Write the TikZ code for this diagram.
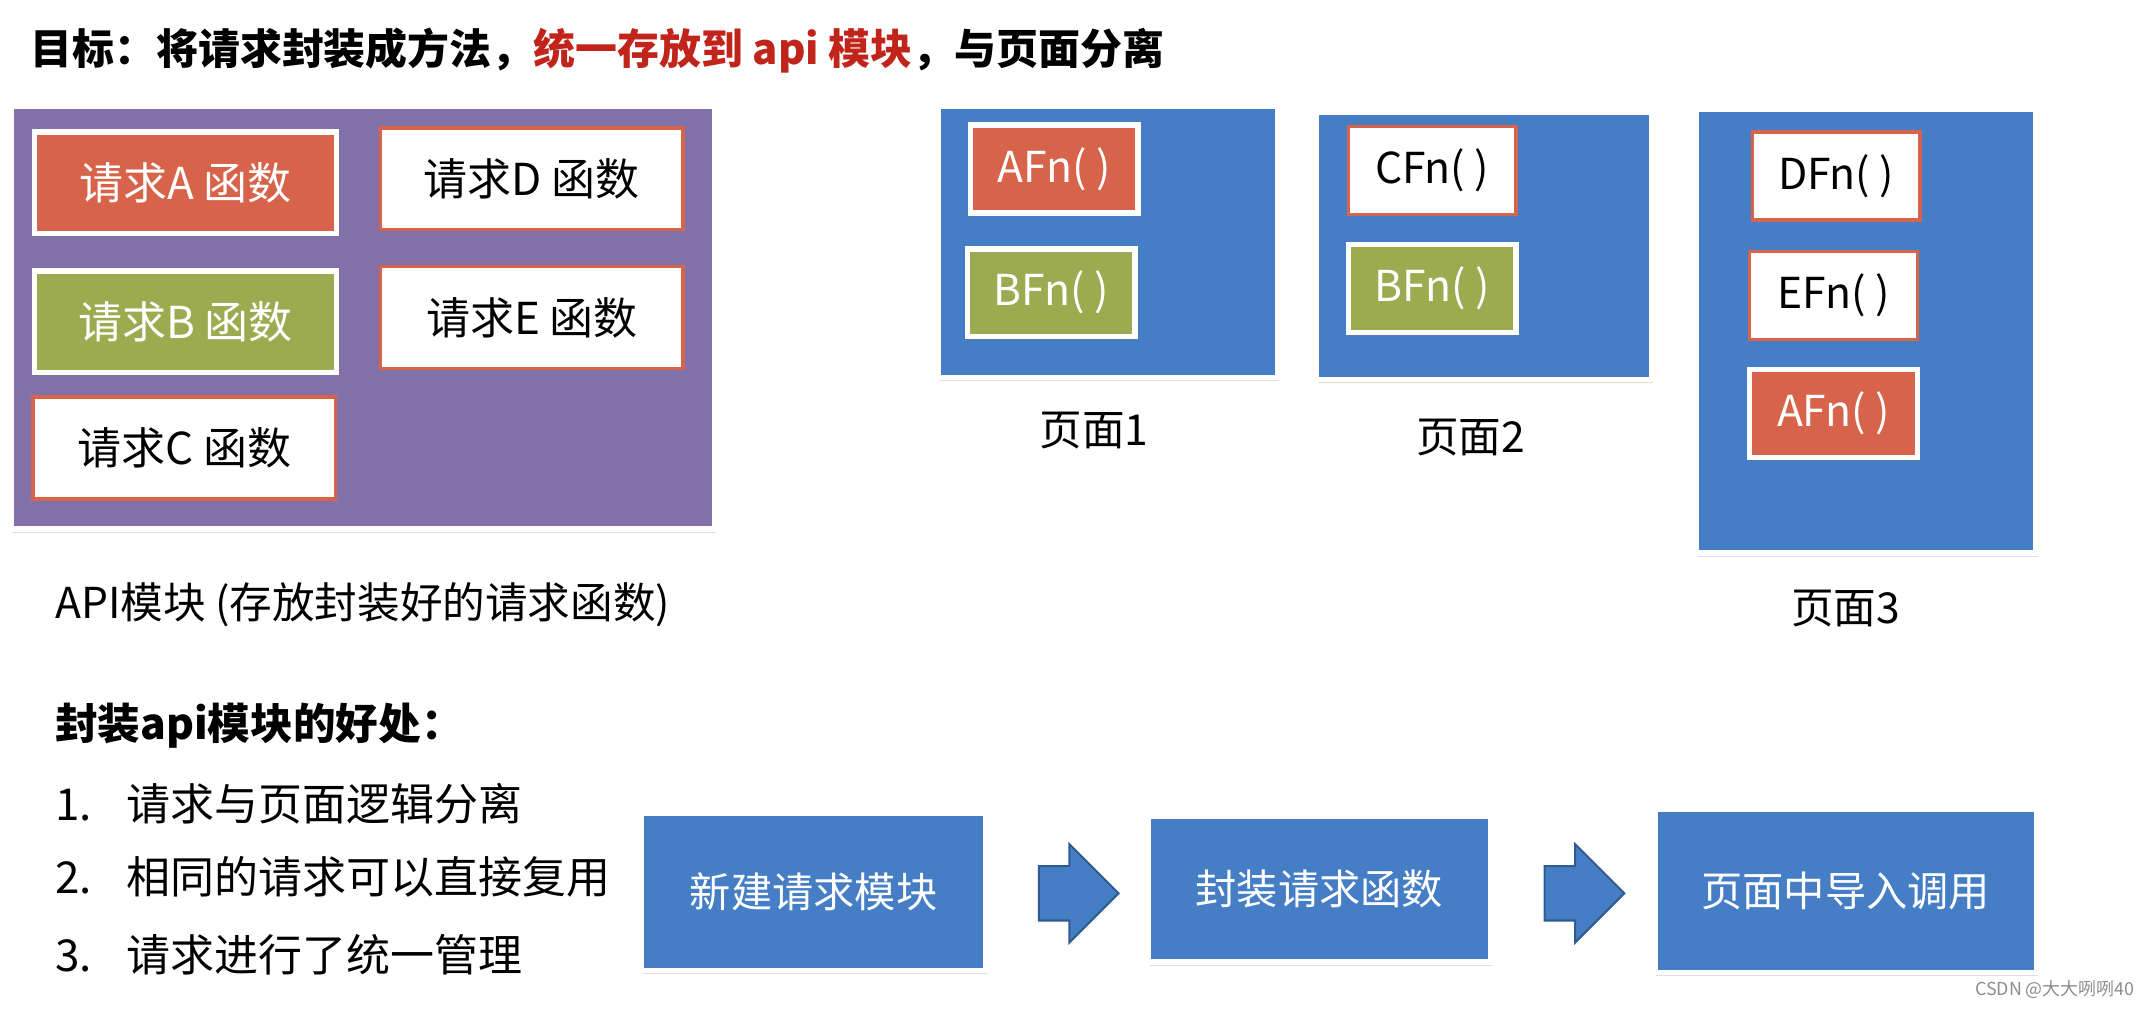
\documentclass[tikz,border=0pt]{standalone}
\usepackage{fontspec}
\setmainfont{Noto Sans CJK SC}
\usetikzlibrary{shapes.arrows,shadows}

\definecolor{apipurple}{HTML}{8270A9}
\definecolor{pageblue}{HTML}{467EC6}
\definecolor{reqorange}{HTML}{D6634A}
\definecolor{reqgreen}{HTML}{9CAB50}
\definecolor{titlered}{HTML}{C0241A}
\definecolor{arrowedge}{HTML}{2F5A92}

\newcommand{\fw}{122pt}
\newcommand{\fh}{64pt}
\newcommand{\txt}[1]{\fontsize{#1}{#1}\selectfont}

\begin{document}
\begin{tikzpicture}[x=1pt, y=-1pt,
    shade/.style={drop shadow={shadow xshift=1pt, shadow yshift=-2.5pt, opacity=0.25}},
    panel/.style={draw=white, line width=4pt, inner sep=0pt, shade},
    req/.style={rectangle, minimum width=220pt, minimum height=74pt, inner sep=0pt, font=\txt{32}},
    fn/.style={rectangle, minimum width=\fw, minimum height=\fh, inner sep=0pt, font=\txt{31}},
    full/.style={draw=white, line width=4pt, text=white, shade},
    hollow/.style={draw=reqorange, line width=2.5pt, fill=white},
    step box/.style={rectangle, fill=pageblue, draw=white, line width=4pt, text=white, inner sep=0pt, font=\txt{30}, shade},
    flowarrow/.style={single arrow, draw=arrowedge, fill=pageblue, line width=1.5pt, minimum height=58pt, single arrow head extend=16pt, inner xsep=0pt, inner ysep=19pt},
    label/.style={inner sep=0pt, font=\txt{31}}]
    \useasboundingbox (0,0) rectangle (1568,734);

    % Title
    \node[inner sep=0pt, anchor=west, font=\txt{30.5}\bfseries] (title) at (22,37)
        {目标：将请求封装成方法，\textcolor{titlered}{统一存放到 api 模块}，与页面分离};

    % API module
    \node[panel, fill=apipurple, minimum width=512pt, minimum height=308pt] (api) at (264,231) {};
    \node[req, full, fill=reqorange] (req-a) at (135,133) {请求A 函数};
    \node[req, full, fill=reqgreen] (req-b) at (135,234) {请求B 函数};
    \node[req, hollow] (req-c) at (134,326) {请求C 函数};
    \node[req, hollow] (req-d) at (387,130) {请求D 函数};
    \node[req, hollow] (req-e) at (387,231) {请求E 函数};
    \node[label, anchor=west] (api-label) at (40,440) {API模块 (存放封装好的请求函数)};

    % Pages
    \node[panel, fill=pageblue, minimum width=247pt, minimum height=197pt] (page-1) at (806,176) {};
    \node[fn, full, fill=reqorange] (page-1-a) at (767,123) {AFn( )};
    \node[fn, full, fill=reqgreen] (page-1-b) at (765,213) {BFn( )};
    \node[label] (page-1-label) at (796,313) {页面1};

    \node[panel, fill=pageblue, minimum width=244pt, minimum height=194pt] (page-2) at (1080,179) {};
    \node[fn, hollow] (page-2-c) at (1042,124) {CFn( )};
    \node[fn, full, fill=reqgreen] (page-2-b) at (1042,210) {BFn( )};
    \node[label] (page-2-label) at (1070,318) {页面2};

    \node[panel, fill=pageblue, minimum width=247pt, minimum height=323pt] (page-3) at (1358,241) {};
    \node[fn, hollow] (page-3-d) at (1336,128) {DFn( )};
    \node[fn, hollow] (page-3-e) at (1334,215) {EFn( )};
    \node[fn, full, fill=reqorange] (page-3-a) at (1334,301) {AFn( )};
    \node[label] (page-3-label) at (1343,443) {页面3};

    % Advantages
    \node[label, anchor=west, font=\txt{31}\bfseries] (adv) at (40,528) {封装api模块的好处：};
    \node[label, anchor=west, font=\txt{32}] (adv-1) at (40,585) {\makebox[52pt][l]{1.}请求与页面逻辑分离};
    \node[label, anchor=west, font=\txt{32}] (adv-2) at (40,638) {\makebox[52pt][l]{2.}相同的请求可以直接复用};
    \node[label, anchor=west, font=\txt{32}] (adv-3) at (40,695) {\makebox[52pt][l]{3.}请求进行了统一管理};

    % Steps
    \node[step box, minimum width=251pt, minimum height=114pt] (step-1) at (592,649) {新建请求模块};
    \node[step box, minimum width=249pt, minimum height=106pt] (step-2) at (960,647) {封装请求函数};
    \node[step box, minimum width=278pt, minimum height=119pt] (step-3) at (1343,648) {页面中导入调用};
    \node[flowarrow] (arrow-1) at (775,650) {};
    \node[flowarrow] (arrow-2) at (1143,650) {};

    \node[inner sep=0pt, text=black!45, font=\txt{13}] (mark) at (1495,720) {CSDN @大大咧咧40};
\end{tikzpicture}
\end{document}
